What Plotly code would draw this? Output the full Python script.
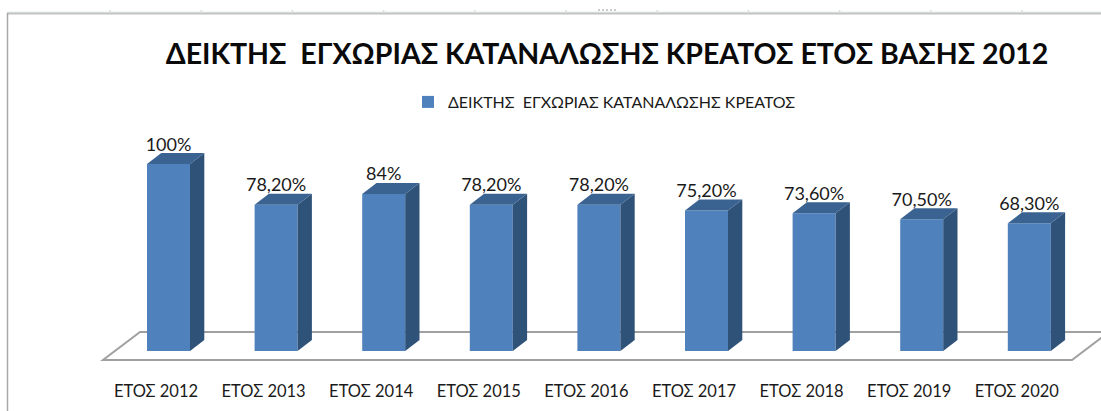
import plotly.graph_objects as go

categories = ["ΕΤΟΣ 2012", "ΕΤΟΣ 2013", "ΕΤΟΣ 2014", "ΕΤΟΣ 2015", "ΕΤΟΣ 2016",
              "ΕΤΟΣ 2017", "ΕΤΟΣ 2018", "ΕΤΟΣ 2019", "ΕΤΟΣ 2020"]
values = [100, 78.2, 84, 78.2, 78.2, 75.2, 73.6, 70.5, 68.3]
value_labels = ["100%", "78,20%", "84%", "78,20%", "78,20%", "75,20%", "73,60%", "70,50%", "68,30%"]
series_name = "ΔΕΙΚΤΗΣ  ΕΓΧΩΡΙΑΣ ΚΑΤΑΝΑΛΩΣΗΣ ΚΡΕΑΤΟΣ"
title_text = "ΔΕΙΚΤΗΣ  ΕΓΧΩΡΙΑΣ ΚΑΤΑΝΑΛΩΣΗΣ ΚΡΕΑΤΟΣ ΕΤΟΣ ΒΑΣΗΣ 2012"

W, H = 1101, 411
PLOT_H = 379
X0, STEP = 168.5, 107.6      # pixel of first category, pixels per category
Y0, YSCALE = 351.0, 1.87     # pixel of value 0, pixels per unit
BAR_W = 43 / STEP
DX, DY = 14.3 / STEP, 11 / YSCALE
LABEL_SHIFT = 12.5 / STEP    # category labels sit left of the bars (3D perspective)
LABEL_LIFT = 9 / YSCALE      # value labels sit just above the bar's top face

FRONT = "#4f81bd"
SIDE = "#2f5278"
TOP = "#3b6391"
FONT = "Lato, 'Noto Sans', sans-serif"

idx = list(range(len(categories)))
fig = go.Figure()
fig.add_trace(go.Bar(x=idx, y=values, width=BAR_W, name=series_name,
                     marker=dict(color=FRONT, line=dict(width=0)), hoverinfo="skip"))

for i, v in zip(idx, values):
    l, r = i - BAR_W / 2, i + BAR_W / 2
    fig.add_trace(go.Scatter(x=[r, r + DX, r + DX, r, r], y=[0, DY, v + DY, v, 0],
                             mode="lines", fill="toself", fillcolor=SIDE,
                             line=dict(width=0, color=SIDE), showlegend=False, hoverinfo="skip"))
    fig.add_trace(go.Scatter(x=[l, r, r + DX, l + DX, l], y=[v, v, v + DY, v + DY, v],
                             mode="lines", fill="toself", fillcolor=TOP,
                             line=dict(width=0, color=TOP), showlegend=False, hoverinfo="skip"))

fig.add_trace(go.Scatter(x=idx, y=[v + LABEL_LIFT for v in values], mode="text", text=value_labels,
                         textposition="top center",
                         textfont=dict(family=FONT, size=18, color="#1a1a1a"),
                         showlegend=False, hoverinfo="skip"))

# 3D floor and window frame are chart furniture
def px(x): return (x - X0) / STEP
def py(y): return (Y0 - y) / YSCALE
def pp(y): return 1 - y / PLOT_H
floor = [(103, 360), (1072, 360), (1109, 332), (140, 332)]
path = "M " + " L ".join(f"{px(a)},{py(b)}" for a, b in floor) + " Z"
shapes = [dict(type="path", path=path, xref="x", yref="y", layer="below",
               fillcolor="white", line=dict(color="#a0a0a0", width=2)),
          dict(type="line", xref="paper", yref="paper", x0=7 / W, x1=1, y0=pp(12), y1=pp(12),
               layer="below", line=dict(color="#e2ecec", width=1)),
          dict(type="line", xref="paper", yref="paper", x0=7 / W, x1=1, y0=pp(13.5), y1=pp(13.5),
               layer="below", line=dict(color="#c2c2c2", width=2)),
          dict(type="line", xref="paper", yref="paper", x0=7.5 / W, x1=7.5 / W, y0=-1, y1=pp(13),
               layer="below", line=dict(color="#a8a8a8", width=1.5)),
          dict(type="line", xref="paper", yref="paper", x0=598 / W, x1=616 / W, y0=pp(10), y1=pp(10),
               layer="below", line=dict(color="#9a9a9a", width=1, dash="2px 2px"))]
shapes += [dict(type="line", xref="paper", yref="paper", x0=(110 + 91.2 * k) / W, x1=(110 + 91.2 * k) / W,
                y0=pp(10), y1=pp(13), layer="below", line=dict(color="#dcdcdc", width=1.5))
           for k in range(11)]

fig.update_layout(
    width=W, height=H,
    margin=dict(l=0, r=0, t=0, b=H - PLOT_H),
    paper_bgcolor="white", plot_bgcolor="rgba(0,0,0,0)",
    font=dict(family=FONT, color="#1a1a1a"),
    showlegend=True,
    legend=dict(orientation="h", x=408 / W, xanchor="left", y=pp(85), yanchor="top",
                font=dict(family=FONT, size=16, color="#1a1a1a"), bgcolor="rgba(0,0,0,0)", itemwidth=30),
    xaxis=dict(range=[px(0), px(W)], tickmode="array",
               tickvals=[i - LABEL_SHIFT for i in idx], ticktext=categories,
               showgrid=False, zeroline=False, showline=False, ticks="", ticklen=0,
               tickfont=dict(family=FONT, size=16.5, color="#1a1a1a")),
    yaxis=dict(range=[py(PLOT_H), py(0)], visible=False),
    title=dict(text="<b>" + title_text + "</b>", x=607 / W, xanchor="center", y=1 - 54 / H, yanchor="middle",
               font=dict(family=FONT, size=28.5, color="#0a0a0a")),
    shapes=shapes,
)
fig.write_html("out.html", config={"displayModeBar": False},
               post_script="document.body.style.margin='0';document.body.style.overflow='hidden';")
